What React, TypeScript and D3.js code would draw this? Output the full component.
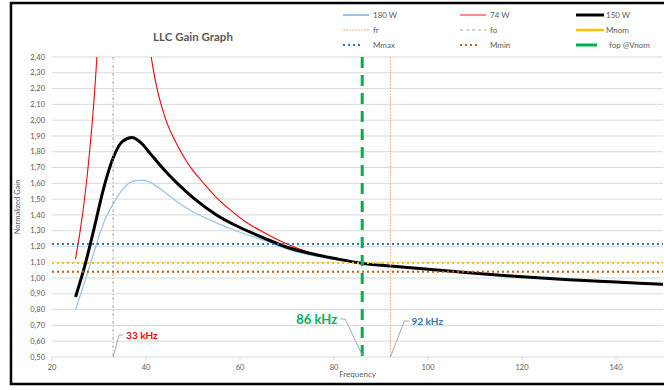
import React from 'react'
import * as d3 from 'd3'

const W = 664
const H = 390
const margin = { top: 57, right: 1, bottom: 33, left: 52 }

// frequencies (kHz) and normalized gain per load
const FREQ = [25, 27, 29, 31, 33, 35, 37, 39, 41, 43, 45, 47, 50, 55, 60, 65, 70, 75, 80, 86, 92, 100, 110, 120, 130, 140, 150]
const GAIN_180W = [0.80, 0.98, 1.17, 1.35, 1.47, 1.56, 1.61, 1.62, 1.605, 1.565, 1.52, 1.475, 1.42, 1.35, 1.29, 1.24, 1.185, 1.145, 1.12, 1.09, 1.073, 1.053, 1.028, 1.006, 0.988, 0.973, 0.958]
const GAIN_150W = [0.88, 1.08, 1.32, 1.57, 1.76, 1.865, 1.89, 1.855, 1.785, 1.715, 1.65, 1.59, 1.51, 1.40, 1.32, 1.255, 1.195, 1.155, 1.125, 1.093, 1.076, 1.055, 1.03, 1.008, 0.99, 0.975, 0.96]
// 74 W goes off the top around resonance
const FREQ_74W = [25, 26, 27, 28, 29, 30, 35, 40.5, 41.5, 42.5, 43.5, 44.5, 46, 48, 50, 52, 55, 58, 61, 65, 70, 75, 80, 86, 92, 100, 110, 120, 130, 140, 150]
const GAIN_74W = [1.12, 1.30, 1.52, 1.80, 2.15, 2.6, null, 2.52, 2.33, 2.18, 2.07, 1.98, 1.88, 1.77, 1.68, 1.61, 1.51, 1.43, 1.36, 1.29, 1.215, 1.16, 1.127, 1.095, 1.076, 1.054, 1.03, 1.007, 0.988, 0.972, 0.957]

const M_MAX = 1.215
const M_NOM = 1.095
const M_MIN = 1.04
const F_O = 33
const F_OP = 86
const F_R = 92

const X_TICKS = [20, 40, 60, 80, 100, 120, 140]
const Y_TICKS = d3.range(5, 25).map(d => d / 10)

const FONT = 'Lato, "Open Sans", sans-serif'
const GREY = '#595959'

export default function App() {
  const x = d3.scaleLinear().domain([20, 150]).range([margin.left, W - margin.right])
  const y = d3.scaleLinear().domain([0.5, 2.4]).range([H - margin.bottom, margin.top])
  const [x0, x1] = x.range()
  const [yb, yt] = y.range()

  const line = d3.line<[number, number | null]>()
    .defined(d => d[1] !== null)
    .x(d => x(d[0]))
    .y(d => y(d[1] as number))
    .curve(d3.curveMonotoneX)

  const s180 = FREQ.map((f, i) => [f, GAIN_180W[i]] as [number, number])
  const s150 = FREQ.map((f, i) => [f, GAIN_150W[i]] as [number, number])
  const s74 = FREQ_74W.map((f, i) => [f, GAIN_74W[i]] as [number, number | null])

  const fmt = (d: number) => d.toFixed(2).replace('.', ',')

  const legendRows = [
    [
      { label: '180 W', stroke: '#9DC3E6', width: 2, dash: null, x: 343, len: 26 },
      { label: '74 W', stroke: '#FF8A8A', width: 2, dash: null, x: 460, len: 26 },
      { label: '150 W', stroke: '#000', width: 3, dash: null, x: 576, len: 28 },
    ],
    [
      { label: 'fr', stroke: '#F4B183', width: 1, dash: '2 1', x: 343, len: 26 },
      { label: 'fo', stroke: '#A6A6A6', width: 1, dash: '3 3', x: 460, len: 26 },
      { label: 'Mnom', stroke: '#FFC000', width: 2.5, dash: null, x: 576, len: 28 },
    ],
    [
      { label: 'Mmax', stroke: '#2E75B6', width: 2, dash: '2 3', x: 343, len: 20 },
      { label: 'Mmin', stroke: '#C55A11', width: 2, dash: '2 3', x: 460, len: 20 },
      { label: 'fop @Vnom', stroke: '#00B050', width: 3, dash: null, x: 576, len: 21 },
    ],
  ]

  return (
    <svg width={W} height={H} style={{ position: 'absolute', left: 0, top: 0, background: '#fff' }}>
      <defs>
        <clipPath id="plot">
          <rect x={x0} y={yt} width={x1 - x0} height={yb - yt} />
        </clipPath>
      </defs>

      <rect x={11} y={3} width={700} height={381} fill="none" stroke="#000" strokeWidth={2.5} />

      <text x={193} y={41} textAnchor="middle" fontFamily={FONT} fontSize={11.5} fontWeight={700} fill={GREY}>
        LLC Gain Graph
      </text>

      {/* legend */}
      {legendRows.map((row, r) => row.map(it => (
        <g key={it.label}>
          <line x1={it.x} x2={it.x + it.len} y1={15 + r * 15} y2={15 + r * 15}
            stroke={it.stroke} strokeWidth={it.width} strokeDasharray={it.dash ?? undefined} />
          <text x={it.label === 'fop @Vnom' ? 609 : it.x + 30} y={15 + r * 15} dy="0.35em"
            fontFamily={FONT} fontSize={8} fill={GREY}>{it.label}</text>
        </g>
      )))}

      {/* grid */}
      {Y_TICKS.map(t => (
        <g key={t}>
          <line x1={x0} x2={x1} y1={y(t)} y2={y(t)} stroke="#d9d9d9" strokeWidth={1} />
          <text x={45} y={y(t)} dy="0.35em" textAnchor="end" fontFamily={FONT} fontSize={7.5} fill={GREY}>{fmt(t)}</text>
        </g>
      ))}
      {X_TICKS.map(t => (
        <g key={t}>
          <line x1={x(t)} x2={x(t)} y1={yb} y2={yb + 3} stroke="#d9d9d9" />
          <text x={x(t)} y={yb + 10} dy="0.35em" textAnchor="middle" fontFamily={FONT} fontSize={7.5} fill={GREY}>{t}</text>
        </g>
      ))}
      <text x={(x0 + x1) / 2} y={377} textAnchor="middle" fontFamily={FONT} fontSize={8} fill={GREY}>Frequency</text>
      <text transform={`translate(20, ${(yt + yb) / 2}) rotate(-90)`} textAnchor="middle" fontFamily={FONT} fontSize={7.5} fill={GREY}>
        Normalized Gain
      </text>

      {/* curves */}
      <g clipPath="url(#plot)" fill="none">
        <path d={line(s180) ?? ''} stroke="#9DC3E6" strokeWidth={1.3} />
        <path d={line(s74) ?? ''} stroke="#FF0000" strokeWidth={1.1} />
        <path d={line(s150) ?? ''} stroke="#000" strokeWidth={3} />
      </g>

      {/* reference lines */}
      <line x1={x0} x2={x1} y1={y(M_MAX)} y2={y(M_MAX)} stroke="#2E75B6" strokeWidth={2} strokeDasharray="2 3" />
      <line x1={x0} x2={x1} y1={y(M_NOM)} y2={y(M_NOM)} stroke="#FFC000" strokeWidth={2} strokeDasharray="2 3" />
      <line x1={x0} x2={x1} y1={y(M_MIN)} y2={y(M_MIN)} stroke="#C55A11" strokeWidth={2} strokeDasharray="2 3" />
      <line x1={x(F_R)} x2={x(F_R)} y1={yt} y2={yb} stroke="#F4B183" strokeWidth={1} strokeDasharray="2 1" />
      <line x1={x(F_O)} x2={x(F_O)} y1={yt} y2={yb} stroke="#A6A6A6" strokeWidth={1} strokeDasharray="3 2 1 2" />
      <line x1={x(F_OP)} x2={x(F_OP)} y1={yt} y2={yb} stroke="#00B050" strokeWidth={3} strokeDasharray="11 7" />

      {/* callouts */}
      <polyline points={`${x(F_O)},${yb} ${x(F_O) + 6},${yb - 22} ${x(F_O) + 10},${yb - 22}`} fill="none" stroke="#A6A6A6" />
      <text x={x(F_O) + 13} y={yb - 22} dy="0.35em" fontFamily={FONT} fontSize={10} fontWeight={700} fill="#FF0000">{F_O} kHz</text>

      <polyline points={`${x(F_OP)},${yb - 2} ${x(F_OP) - 17},${yb - 38} ${x(F_OP) - 22},${yb - 38}`} fill="none" stroke="#A6A6A6" />
      <text x={x(F_OP) - 25} y={yb - 38} dy="0.35em" textAnchor="end" fontFamily={FONT} fontSize={13} fontWeight={700} fill="#00B050">{F_OP} kHz</text>

      <polyline points={`${x(F_R)},${yb} ${x(F_R) + 14},${yb - 36} ${x(F_R) + 19},${yb - 36}`} fill="none" stroke="#A6A6A6" />
      <text x={x(F_R) + 21} y={yb - 36} dy="0.35em" fontFamily={FONT} fontSize={10} fontWeight={700} fill="#2E75B6">{F_R} kHz</text>
    </svg>
  )
}
